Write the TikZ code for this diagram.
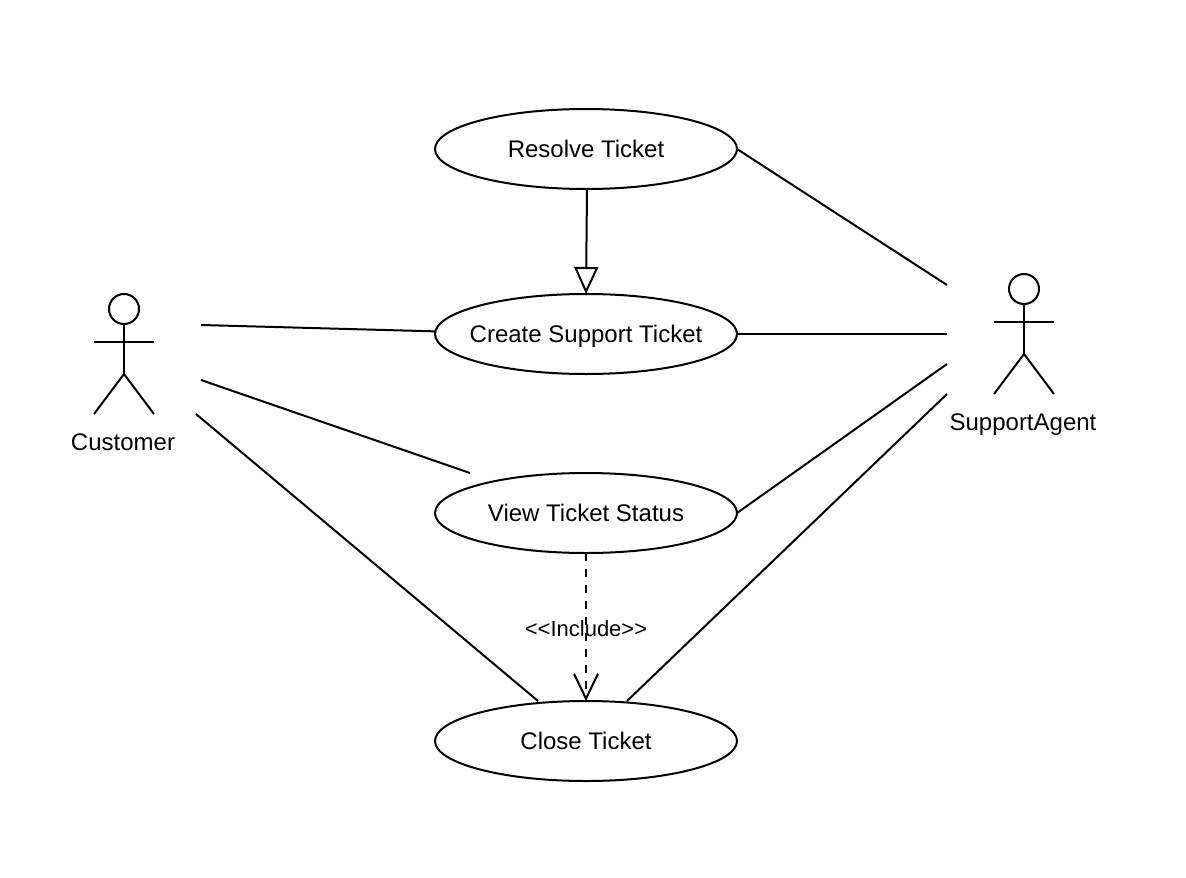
\documentclass[tikz,border=0pt]{standalone}
\usepackage{fontspec}
\setmainfont{Liberation Sans}
\usetikzlibrary{positioning,arrows.meta,shapes.geometric}

% keeps the ellipse size independent of its text
\newcommand{\uctext}[1]{\raisebox{-8.6pt}[0pt][0pt]{\makebox[0pt]{#1}}}

\begin{document}
\begin{tikzpicture}[
  x=1pt, y=-1pt,
  line width=2pt,
  usecase/.style={draw, ellipse, minimum width=302pt, minimum height=80pt,
                  inner sep=0pt, outer sep=0pt, font=\fontsize{24}{28}\selectfont},
  lbl/.style={inner sep=0pt, font=\fontsize{24}{28}\selectfont},
  assoc/.style={line width=2pt},
  gen/.style={-{Triangle[open, fill=white, length=27pt, width=24pt]}},
  incl/.style={dash pattern=on 8pt off 8pt,
               -{Straight Barb[length=25pt, width=24pt, line width=2pt]}},
  actor/.pic={
    \node[draw, circle, minimum size=30pt, inner sep=0pt, outer sep=0pt] (-head) at (0,0) {};
    \draw (-head.south) -- (0,65);
    \draw (-30,33) -- (30,33);
    \draw (-30,105) -- (0,65) -- (30,105);
  },
]
  \useasboundingbox (0,0) rectangle (1186,878);

  \node[usecase] (res) at (586,149) {\uctext{Resolve Ticket}};
  \node[usecase, below=105pt of res] (create) {\uctext{Create Support Ticket}};
  \node[usecase, below=99pt of create] (view) {\uctext{View Ticket Status}};
  \node[usecase, below=148pt of view] (close) {\uctext{Close Ticket}};

  \pic (cust) at (124,309) {actor};
  \pic (agent) at (1024,289) {actor};
  \node[lbl] (custlbl) at (123,442) {Customer};
  \node[lbl] (agentlbl) at (1023,425) {SupportAgent};

  % free ends of the associations
  \coordinate (cust1) at (201,325);
  \coordinate (cust2) at (201,380);
  \coordinate (cust3) at (196,414);
  \coordinate (agent1) at (947,285);
  \coordinate (agent2) at (947,334);
  \coordinate (agent3) at (947,364);
  \coordinate (agent4) at (947,394);
  \coordinate (viewend) at (470,473);
  \coordinate (closel) at (538,701);
  \coordinate (closer) at (627,701);

  \draw[assoc] (cust1) -- (create.179);
  \draw[assoc] (cust2) -- (viewend);
  \draw[assoc] (cust3) -- (closel);
  \draw[assoc] (res.east) -- (agent1);
  \draw[assoc] (create.east) -- (agent2);
  \draw[assoc] (view.east) -- (agent3);
  \draw[assoc] (closer) -- (agent4);

  \draw[gen] ([xshift=1pt]res.south) -- (create.north);
  \draw[incl] (view.south) -- (close.north);
  \node[inner sep=0pt, font=\fontsize{22}{26}\selectfont] (incllbl) at (586,629) {<{}<Include>{}>};
\end{tikzpicture}
\end{document}
